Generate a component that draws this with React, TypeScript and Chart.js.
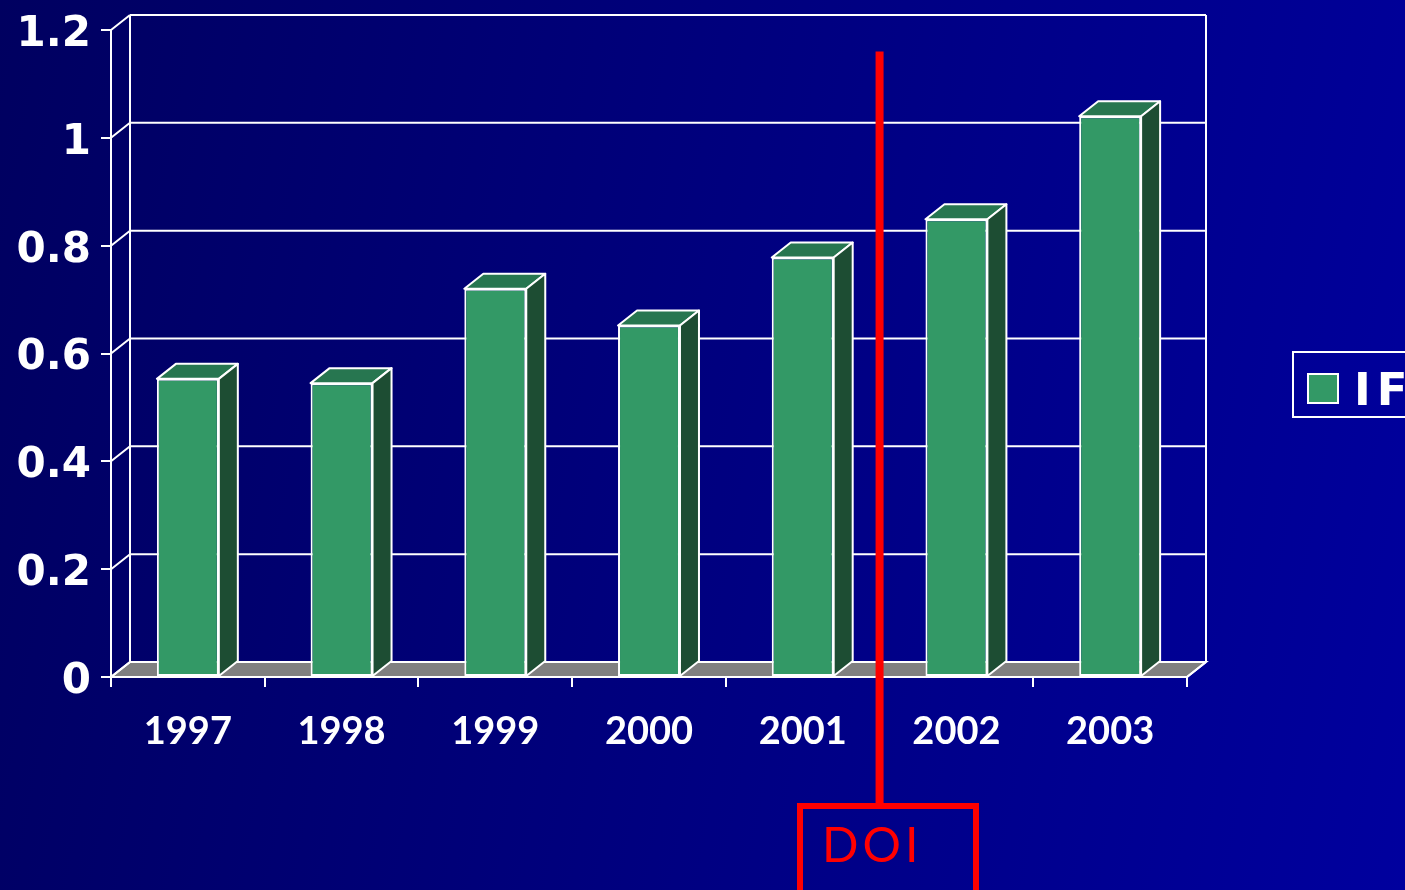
import React, { useEffect, useRef } from "react";
import { Chart, registerables } from "chart.js";

Chart.register(...registerables);

// ---- data ----
const years = ["1997", "1998", "1999", "2000", "2001", "2002", "2003"];
const ifValues = [0.553, 0.545, 0.72, 0.652, 0.778, 0.849, 1.04];
const seriesName = "IF";
const yTickValues = [0, 0.2, 0.4, 0.6, 0.8, 1, 1.2];
const doiAfterCategory = "2001";
const doiLineTop = 1.16;
const doiLabel = "DOI";

// ---- styles ----
const DX = 19;
const DY = -15;
const FRONT = "#339966";
const TOP = "#277650";
const SIDE = "#1d4d33";
const FLOOR = "#808080";

const threeD = {
  id: "threeD",
  beforeDatasetsDraw(chart: any) {
    const { ctx, chartArea: ca, scales } = chart;
    const y = scales.y;
    const y0 = y.getPixelForValue(0);
    const yTop = y.getPixelForValue(yTickValues[yTickValues.length - 1]);
    ctx.save();
    ctx.strokeStyle = "#ffffff";
    ctx.lineWidth = 2;
    ctx.fillStyle = FLOOR;
    ctx.beginPath();
    ctx.moveTo(ca.left, y0);
    ctx.lineTo(ca.right, y0);
    ctx.lineTo(ca.right + DX, y0 + DY);
    ctx.lineTo(ca.left + DX, y0 + DY);
    ctx.closePath();
    ctx.fill();
    ctx.stroke();
    ctx.beginPath();
    for (const v of yTickValues) {
      const py = y.getPixelForValue(v);
      ctx.moveTo(ca.left + DX, py + DY);
      ctx.lineTo(ca.right + DX, py + DY);
      ctx.moveTo(ca.left, py);
      ctx.lineTo(ca.left + DX, py + DY);
    }
    ctx.moveTo(ca.left + DX, yTop + DY);
    ctx.lineTo(ca.left + DX, y0 + DY);
    ctx.moveTo(ca.right + DX, yTop + DY);
    ctx.lineTo(ca.right + DX, y0 + DY);
    ctx.moveTo(ca.right, y0);
    ctx.lineTo(ca.right + DX, y0 + DY);
    ctx.stroke();
    ctx.restore();
  },
  afterDatasetsDraw(chart: any) {
    const { ctx } = chart;
    const meta = chart.getDatasetMeta(0);
    ctx.save();
    ctx.strokeStyle = "#ffffff";
    ctx.lineWidth = 2;
    ctx.lineJoin = "round";
    for (const el of meta.data) {
      const p = el.getProps(["x", "y", "base", "width"], true);
      const x0 = p.x - p.width / 2;
      const x1 = p.x + p.width / 2;
      ctx.fillStyle = TOP;
      ctx.beginPath();
      ctx.moveTo(x0, p.y);
      ctx.lineTo(x0 + DX, p.y + DY);
      ctx.lineTo(x1 + DX, p.y + DY);
      ctx.lineTo(x1, p.y);
      ctx.closePath();
      ctx.fill();
      ctx.stroke();
      ctx.fillStyle = SIDE;
      ctx.beginPath();
      ctx.moveTo(x1, p.y);
      ctx.lineTo(x1 + DX, p.y + DY);
      ctx.lineTo(x1 + DX, p.base + DY);
      ctx.lineTo(x1, p.base);
      ctx.closePath();
      ctx.fill();
      ctx.stroke();
    }
    ctx.restore();
  },
  afterDraw(chart: any) {
    const { ctx, scales } = chart;
    const x = scales.x;
    const i = years.indexOf(doiAfterCategory);
    const px = (x.getPixelForValue(i) + x.getPixelForValue(i + 1)) / 2;
    ctx.save();
    ctx.strokeStyle = "#ff0000";
    ctx.lineWidth = 8;
    ctx.beginPath();
    ctx.moveTo(px, scales.y.getPixelForValue(doiLineTop));
    ctx.lineTo(px, chart.height - 84);
    ctx.stroke();
    ctx.restore();
  },
};

export default function App() {
  const ref = useRef<HTMLCanvasElement | null>(null);

  useEffect(() => {
    document.body.style.margin = "0";
    if (!ref.current) return;
    const chart = new Chart(ref.current, {
      type: "bar",
      data: {
        labels: years,
        datasets: [
          {
            label: seriesName,
            data: ifValues,
            backgroundColor: FRONT,
            borderColor: "#ffffff",
            borderWidth: 2,
            borderSkipped: false,
            barPercentage: 0.403,
            categoryPercentage: 1,
          },
        ],
      },
      options: {
        animation: false,
        responsive: false,
        devicePixelRatio: 1,
        layout: { padding: { left: 0, top: 30, right: 218, bottom: 0 } },
        plugins: { legend: { display: false }, tooltip: { enabled: false } },
        scales: {
          x: {
            type: "category",
            offset: true,
            grid: {
              offset: true,
              drawOnChartArea: false,
              drawTicks: true,
              tickLength: 10,
              color: "#ffffff",
              lineWidth: 2,
            },
            border: { display: true, color: "#ffffff", width: 2 },
            ticks: {
              color: "#ffffff",
              padding: 22,
              maxRotation: 0,
              font: { family: "Lato", weight: "bold", size: 38 },
            },
            afterFit: (s: any) => {
              s.height = 213;
              s.paddingLeft = 0;
              s.paddingRight = 0;
            },
          },
          y: {
            min: 0,
            max: 1.2,
            afterBuildTicks: (s: any) => {
              s.ticks = yTickValues.map((v) => ({ value: v }));
            },
            grid: {
              drawOnChartArea: false,
              drawTicks: true,
              tickLength: 10,
              color: "#ffffff",
              lineWidth: 2,
            },
            border: { display: true, color: "#ffffff", width: 2 },
            ticks: {
              color: "#ffffff",
              padding: 10,
              labelOffset: 5,
              font: { family: "DejaVu Sans", weight: "bold", size: 42 },
              callback: (v: any) => String(Number(Number(v).toFixed(1))),
            },
            afterFit: (s: any) => {
              s.width = 111;
              s.paddingTop = 0;
              s.paddingBottom = 0;
            },
          },
        },
      },
      plugins: [threeD],
    });
    return () => chart.destroy();
  }, []);

  return (
    <div
      style={{
        position: "fixed",
        left: 0,
        top: 0,
        width: 1405,
        height: 890,
        overflow: "hidden",
        background: "linear-gradient(100deg, #000060 0%, #00009e 100%)",
      }}
    >
      <canvas ref={ref} width={1405} height={890} style={{ position: "absolute", left: 0, top: 0 }} />
      <div
        style={{
          position: "absolute",
          left: 1292,
          top: 351,
          width: 200,
          height: 67,
          boxSizing: "border-box",
          border: "2px solid #ffffff",
        }}
      />
      <div
        style={{
          position: "absolute",
          left: 1307,
          top: 373,
          width: 32,
          height: 31,
          boxSizing: "border-box",
          background: FRONT,
          border: "2px solid #ffffff",
        }}
      />
      <div
        style={{
          position: "absolute",
          left: 1354,
          top: 367,
          fontFamily: "DejaVu Sans",
          fontWeight: "bold",
          fontSize: 45,
          lineHeight: "45px",
          letterSpacing: 6,
          color: "#ffffff",
          whiteSpace: "nowrap",
        }}
      >
        {seriesName}
      </div>
      <div
        style={{
          position: "absolute",
          left: 797,
          top: 803,
          width: 182,
          height: 95,
          boxSizing: "border-box",
          border: "6px solid #ff0000",
        }}
      />
      <div
        style={{
          position: "absolute",
          left: 822,
          top: 820,
          fontFamily: "'Comic Sans MS', Lato, sans-serif",
          fontSize: 48,
          lineHeight: "48px",
          letterSpacing: 4,
          color: "#ff0000",
          whiteSpace: "nowrap",
        }}
      >
        {doiLabel}
      </div>
    </div>
  );
}
